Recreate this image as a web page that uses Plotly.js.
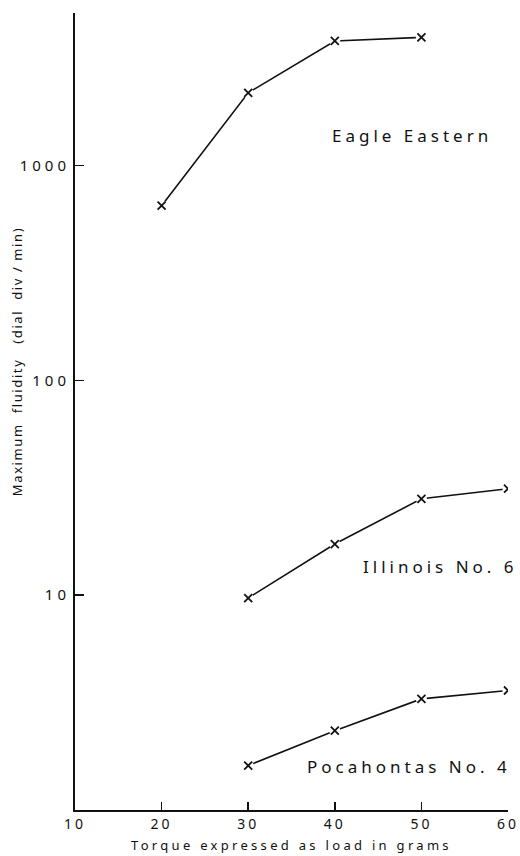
<!DOCTYPE html>
<html>
<head>
<meta charset="utf-8">
<script src="https://cdn.plot.ly/plotly-3.0.1.min.js"></script>
<style>
  html, body { margin: 0; padding: 0; background: #fff; }
  #chart { width: 520px; height: 856px; }
  .js-plotly-plot .annotation-text { letter-spacing: 4px; }
  .js-plotly-plot .annotation[data-index="0"] .annotation-text { letter-spacing: 1.6px; }
  .js-plotly-plot .xtick text { letter-spacing: 3px; }
  .js-plotly-plot .ytick text { letter-spacing: 4px; }
  .js-plotly-plot .g-xtitle text { letter-spacing: 3.3px; }
</style>
</head>
<body>
<div id="chart"></div>
<script>
// Torque (load in grams)
const torque = [20, 30, 40, 50, 60];
// Maximum fluidity (dial div/min)
const eagleEastern = [650, 2180, 3800, 3950, null];
const illinoisNo6 = [null, 9.7, 17.3, 28.1, 31.3];
const pocahontasNo4 = [null, 1.61, 2.34, 3.29, 3.6];
const seriesNames = ["Eagle Eastern", "Illinois No. 6", "Pocahontas No. 4"];
const seriesValues = [eagleEastern, illinoisNo6, pocahontasNo4];
const xTicks = [10, 20, 30, 40, 50, 60];
const yTicks = [10, 100, 1000];

const font = "Noto Sans, DejaVu Sans, sans-serif";
const traces = [];
seriesValues.forEach((vals, i) => {
  const xs = [], ys = [];
  torque.forEach((t, k) => { if (vals[k] !== null) { xs.push(t); ys.push(vals[k]); } });
  traces.push({ x: xs, y: ys, type: "scatter", mode: "lines", name: seriesNames[i],
    line: { color: "#111", width: 1.6 }, hoverinfo: "skip", showlegend: false });
  traces.push({ x: xs, y: ys, type: "scatter", mode: "markers",
    marker: { symbol: "circle", size: 11, color: "#fff", line: { width: 0 } }, hoverinfo: "skip", showlegend: false });
  traces.push({ x: xs, y: ys, type: "scatter", mode: "markers", name: seriesNames[i],
    marker: { symbol: "x-thin", size: 8, color: "#111", line: { color: "#111", width: 1.8 } }, showlegend: false });
});

const labelCenterPx = [412, 440, 409];
const labelMidPx = [135, 566, 766];

const layout = {
  width: 520, height: 856,
  margin: { l: 75, r: 12, t: 13, b: 46 },
  paper_bgcolor: "#fff", plot_bgcolor: "#fff",
  font: { family: font, color: "#111", size: 14 },
  showlegend: false,
  xaxis: {
    range: [10, 60], tickvals: xTicks, ticktext: xTicks.map(String),
    ticks: "inside", ticklen: 8, tickwidth: 1.5, tickcolor: "#111",
    showline: true, linewidth: 2, linecolor: "#111",
    showgrid: false, zeroline: false,
    tickfont: { size: 14, family: font, color: "#111" },
    title: { text: "Torque expressed as load in grams", font: { size: 13, family: font, color: "#111" }, standoff: 9 }
  },
  yaxis: {
    type: "log", range: [0, 3.71], tickvals: yTicks, ticktext: yTicks.map(String),
    ticks: "inside", ticklen: 9, tickwidth: 1.5, tickcolor: "#111",
    showline: true, linewidth: 2, linecolor: "#111",
    showgrid: false, zeroline: false,
    tickfont: { size: 15, family: font, color: "#111" }
  },
  annotations: [
    { text: "Maximum  fluidity   (dial  div / min)", xref: "paper", yref: "paper",
      x: -0.135, y: (810 - 362) / 797, xanchor: "center", yanchor: "middle", textangle: -90,
      showarrow: false, font: { size: 13, family: font, color: "#111" } }
  ].concat(seriesNames.map((name, i) => ({
    text: name, xref: "paper", yref: "paper",
    x: (labelCenterPx[i] - 75) / 433, y: (810 - labelMidPx[i]) / 797,
    xanchor: "center", yanchor: "middle", showarrow: false,
    font: { size: 17, family: font, color: "#111" }
  })))
};

Plotly.newPlot("chart", traces, layout, { displayModeBar: false, staticPlot: true });
</script>
</body>
</html>
